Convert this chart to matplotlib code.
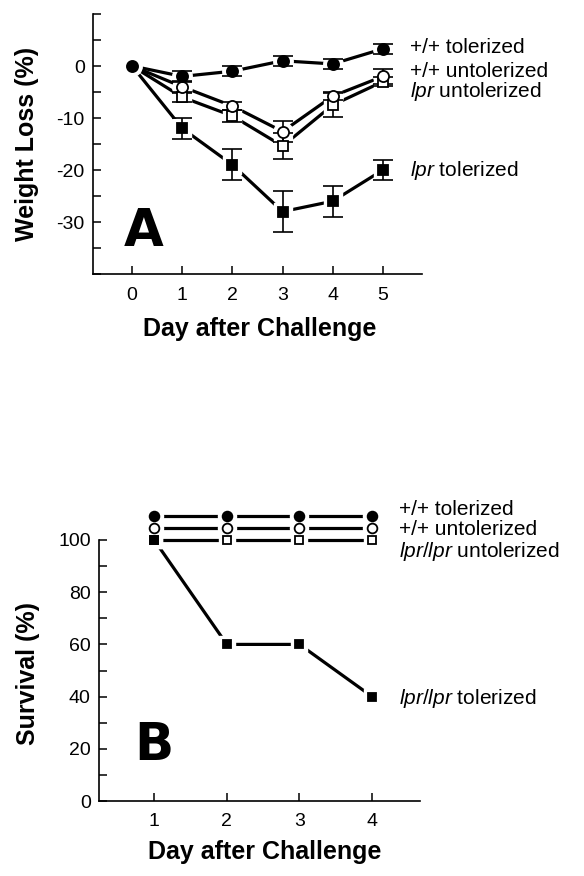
import matplotlib.pyplot as plt
import matplotlib.transforms as mtransforms

plt.rcParams["font.family"] = "Liberation Sans"
plt.rcParams["mathtext.fontset"] = "custom"
plt.rcParams["mathtext.rm"] = "Liberation Sans"
plt.rcParams["mathtext.it"] = "Liberation Sans:italic"
plt.rcParams["axes.unicode_minus"] = False

# -----------------------------
# Panel A data: weight loss (%)
# -----------------------------
days_a = [0, 1, 2, 3, 4, 5]
wt_tol = [0, -2, -1, 1, 0.4, 3.3]
wt_tol_err = [0, 1, 1, 1, 1, 1]
wt_untol = [0, -4, -7.7, -12.6, -5.8, -2]
wt_untol_err = [0, 1.2, 0.8, 2, 0.8, 1.4]
lpr_untol = [0, -6, -9.6, -15.4, -7.5, -3]
lpr_untol_err = [0, 1, 1.2, 2.5, 2.3, 0.9]
lpr_tol = [0, -12, -19, -28, -26, -20]
lpr_tol_err = [0, 2, 3, 4, 3, 2]

labels_a = ["+/+ tolerized", "+/+ untolerized",
            r"$\mathit{lpr}$ untolerized", r"$\mathit{lpr}$ tolerized"]
label_y_a = [4.0, -0.6, -4.4, -19.6]

# -----------------------------
# Panel B data: survival (%)
# -----------------------------
days_b = [1, 2, 3, 4]
surv_wt_tol = [100, 100, 100, 100]
surv_wt_untol = [100, 100, 100, 100]
surv_lpr_untol = [100, 100, 100, 100]
surv_lpr_tol = [100, 60, 60, 40]

labels_b = ["+/+ tolerized", "+/+ untolerized",
            r"$\mathit{lpr/lpr}$ untolerized", r"$\mathit{lpr/lpr}$ tolerized"]
label_y_b = [112.6, 104.6, 96.9, 40.6]

fig = plt.figure(figsize=(5.84, 8.76), dpi=100)
W, H = 584, 876


def px_axes(left, top, right, bottom):
    return fig.add_axes([left / W, 1 - bottom / H, (right - left) / W, (bottom - top) / H])


def draw_series(ax, x, y, marker, face, ms, err=None, dy_px=0, first=1):
    tr = ax.transData + mtransforms.ScaledTranslation(0, dy_px / 100, fig.dpi_scale_trans)
    ax.plot(x, y, color="black", lw=2.3, transform=tr, zorder=2, clip_on=False,
            solid_capstyle="butt")
    ax.plot(x[first:], y[first:], ls="none", marker=marker, ms=ms + 6, mfc="white",
            mec="white", transform=tr, zorder=3, clip_on=False)
    if err is not None:
        ax.errorbar(x[1:], y[1:], yerr=err[1:], fmt="none", ecolor="black",
                    elinewidth=1.2, capsize=7.5, capthick=1.2, zorder=4)
    ax.plot(x[first:], y[first:], ls="none", marker=marker, ms=ms, mfc=face,
            mec="black", mew=1.3, transform=tr, zorder=5, clip_on=False)


def style_axes(ax):
    for s in ["top", "right"]:
        ax.spines[s].set_visible(False)
    for s in ["left", "bottom"]:
        ax.spines[s].set_linewidth(1.2)
    ax.tick_params(which="both", direction="in", length=6, width=1.1, labelsize=14)
    ax.tick_params(axis="y", pad=6)
    ax.tick_params(axis="x", pad=9)


# -----------------------------
# Panel A
# -----------------------------
ax1 = px_axes(93, 14, 422, 274)
ax1.set_xlim(-0.78, 5.78)
ax1.set_ylim(-40, 10)
style_axes(ax1)
ax1.set_xticks(days_a)
ax1.set_yticks([-30, -20, -10, 0])
ax1.set_yticks([-40, -35, -25, -15, -5, 5, 10], minor=True)

draw_series(ax1, days_a, lpr_tol, "s", "black", 7, lpr_tol_err)
draw_series(ax1, days_a, lpr_untol, "s", "white", 7, lpr_untol_err)
draw_series(ax1, days_a, wt_untol, "o", "white", 8, wt_untol_err)
draw_series(ax1, days_a, wt_tol, "o", "black", 8, wt_tol_err, first=0)

for lab, yy in zip(labels_a, label_y_a):
    ax1.text(5.54, yy, lab, fontsize=15, va="center_baseline", ha="left", clip_on=False)

ax1.set_ylabel("Weight Loss (%)", fontsize=18, fontweight="bold", va="center")
ax1.yaxis.set_label_coords(-0.2, 0.5)
ax1.set_xlabel("Day after Challenge", fontsize=18, fontweight="bold", va="center")
ax1.xaxis.set_label_coords(0.508, -0.212)

fig.text(143.5 / W, 1 - 232.5 / H, "A", fontsize=37, fontweight="bold",
         family="DejaVu Sans", ha="center", va="center")

# -----------------------------
# Panel B
# -----------------------------
ax2 = px_axes(99, 540, 420, 801)
ax2.set_xlim(0.24, 4.66)
ax2.set_ylim(0, 100)
style_axes(ax2)
ax2.set_xticks(days_b)
ax2.set_yticks([0, 20, 40, 60, 80, 100])
ax2.set_yticks([10, 30, 50, 70, 90], minor=True)

draw_series(ax2, days_b, surv_lpr_untol, "s", "white", 6, first=0)
draw_series(ax2, days_b, surv_lpr_tol, "s", "black", 6, first=0)
draw_series(ax2, days_b, surv_wt_untol, "o", "white", 7, dy_px=12, first=0)
draw_series(ax2, days_b, surv_wt_tol, "o", "black", 7, dy_px=24, first=0)

for lab, yy in zip(labels_b, label_y_b):
    ax2.text(4.37, yy, lab, fontsize=15, va="center_baseline", ha="left", clip_on=False)

ax2.set_ylabel("Survival (%)", fontsize=18, fontweight="bold", va="center")
ax2.yaxis.set_label_coords(-0.22, 0.487)
ax2.set_xlabel("Day after Challenge", fontsize=18, fontweight="bold", va="center")
ax2.xaxis.set_label_coords(0.517, -0.195)

fig.text(153.5 / W, 1 - 746 / H, "B", fontsize=37, fontweight="bold",
         family="DejaVu Sans", ha="center", va="center")

fig.savefig("out.png", dpi=100)
